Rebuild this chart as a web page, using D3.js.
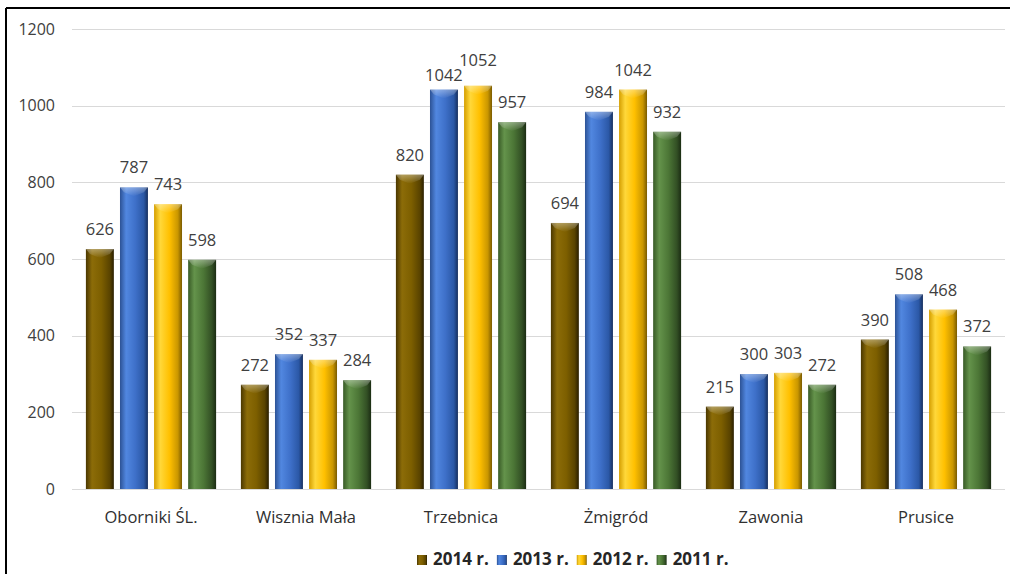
<!DOCTYPE html>
<html><head><meta charset="utf-8">
<script src="https://cdn.jsdelivr.net/npm/d3@7"></script>
<style>html,body{margin:0;padding:0;background:#fff;}svg{display:block;}</style>
</head><body>
<svg id="chart" width="1010" height="574"></svg>
<script>
const categories = ["Oborniki ŚL.", "Wisznia Mała", "Trzebnica", "Żmigród", "Zawonia", "Prusice"];
const seriesNames = ["2014 r.", "2013 r.", "2012 r.", "2011 r."];
const values2014 = [626, 272, 820, 694, 215, 390];
const values2013 = [787, 352, 1042, 984, 300, 508];
const values2012 = [743, 337, 1052, 1042, 303, 468];
const values2011 = [598, 284, 957, 932, 272, 372];
const yTicks = [0, 200, 400, 600, 800, 1000, 1200];

const seriesValues = [values2014, values2013, values2012, values2011];
const palettes = [
  ["#4a3700","#8c6c08","#7d5f00","#5a4400","#2a1f00"],
  ["#2c5295","#5187e0","#3e70c9","#2b58a6","#162f5e"],
  ["#d49e00","#ffd83a","#ffc000","#c99600","#7a5b00"],
  ["#385a26","#64934b","#4c7636","#324f24","#1b2c13"]
];

const svg = d3.select("#chart");
const defs = svg.append("defs");
palettes.forEach((p, i) => {
  const g = defs.append("linearGradient").attr("id", "g" + i).attr("x1", "0").attr("x2", "1").attr("y1", "0").attr("y2", "0");
  [[0,p[0]],[0.22,p[1]],[0.55,p[2]],[0.85,p[3]],[1,p[4]]].forEach(s => g.append("stop").attr("offset", s[0]).attr("stop-color", s[1]));
});
const tg = defs.append("linearGradient").attr("id", "topg").attr("x1","0").attr("x2","0").attr("y1","0").attr("y2","1");
tg.append("stop").attr("offset",0).attr("stop-color","#fff").attr("stop-opacity",0.35);
tg.append("stop").attr("offset",1).attr("stop-color","#fff").attr("stop-opacity",0);

// frame
svg.append("line").attr("x1",6).attr("x2",6).attr("y1",8).attr("y2",574).attr("stroke","#000").attr("stroke-width",2);
svg.append("line").attr("x1",6).attr("x2",1010).attr("y1",8).attr("y2",8).attr("stroke","#000").attr("stroke-width",2);

const x0 = d3.scaleBand().domain(categories).range([73.5, 1003.5]).paddingInner(0.16).paddingOuter(0.08);
const x1 = d3.scaleBand().domain(seriesNames).range([0, x0.bandwidth()]).paddingInner(0.18);
const y = d3.scaleLinear().domain([0, 1200]).range([489, 29]);

// gridlines
svg.append("g").selectAll("line").data(yTicks).join("line")
  .attr("x1", 72).attr("x2", 1005)
  .attr("y1", d => Math.round(y(d)) + 0.5).attr("y2", d => Math.round(y(d)) + 0.5)
  .attr("stroke", "#d9d9d9").attr("stroke-width", 1);

// y labels
svg.append("g").selectAll("text").data(yTicks).join("text")
  .attr("x", 55).attr("y", d => y(d)).attr("dy", "0.35em")
  .attr("text-anchor", "end")
  .style("font-family", "'Open Sans', sans-serif").style("font-size", "16px").attr("fill", "#404040")
  .text(d => d);

// bars
const groups = svg.append("g").selectAll("g").data(categories).join("g")
  .attr("transform", d => `translate(${x0(d)},0)`);
groups.each(function(cat, ci) {
  const g = d3.select(this);
  const labels = [];
  seriesNames.forEach((s, si) => {
    const v = seriesValues[si][ci];
    const bx = x1(s), bw = x1.bandwidth(), top = y(v);
    g.append("rect").attr("x", bx).attr("y", top).attr("width", bw).attr("height", y(0) - top)
      .attr("fill", `url(#g${si})`);
    g.append("path")
      .attr("d", `M${bx},${top}L${bx+bw},${top}L${bx+bw-4},${top+5}L${bx+bw/2},${top+9}L${bx+4},${top+5}Z`)
      .attr("fill", "url(#topg)");
    const t = g.append("text").attr("x", bx + bw / 2).attr("y", top - 14)
      .attr("text-anchor", "middle")
      .style("font-family", "'Open Sans', sans-serif").style("font-size", "16.5px").attr("fill", "#404040")
      .text(v);
    labels.push({t, cx: bx + bw / 2, yb: top - 14, w: t.node().getComputedTextLength()});
  });
  // resolve overlapping neighbour labels
  for (let i = 1; i < labels.length; i++) {
    const a = labels[i - 1], b = labels[i];
    const hOverlap = (a.w + b.w) / 2 > (b.cx - a.cx) - 1;
    const dy = Math.abs(a.yb - b.yb);
    if (hOverlap && dy < 15) {
      const shift = (15 - dy) / 2;
      const hi = a.yb < b.yb ? a : b, lo = hi === a ? b : a;
      hi.yb -= shift; lo.yb += shift;
      a.t.attr("y", a.yb); b.t.attr("y", b.yb);
    }
  }
});

// category labels
svg.append("g").selectAll("text").data(categories).join("text")
  .attr("x", d => x0(d) + x0.bandwidth() / 2).attr("y", 523)
  .attr("text-anchor", "middle")
  .style("font-family", "'Open Sans', sans-serif").style("font-size", "16.5px").attr("fill", "#303030")
  .text(d => d);

// legend
const lg = svg.append("g");
let lx = 417;
seriesNames.forEach((s, i) => {
  lg.append("rect").attr("x", lx).attr("y", 555).attr("width", 10).attr("height", 10).attr("fill", `url(#g${i})`);
  const t = lg.append("text").attr("x", lx + 16).attr("y", 565)
    .style("font-family", "'Open Sans', sans-serif").style("font-size", "17px").style("font-weight", "bold")
    .attr("fill", "#262626").text(s);
  lx += 16 + t.node().getComputedTextLength() + 8;
});
</script>
</body></html>
